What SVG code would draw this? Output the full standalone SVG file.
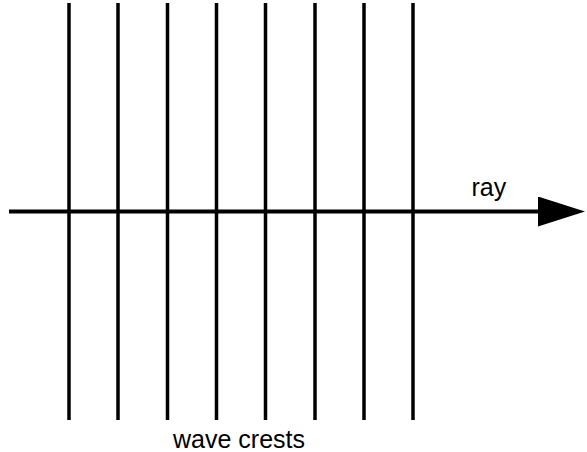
<svg xmlns="http://www.w3.org/2000/svg" width="587" height="452" viewBox="0 0 587 452">
  <style>
    .crest { stroke: #000; stroke-width: 3.5; fill: none; }
    .ray { stroke: #000; stroke-width: 4; fill: none; }
    .label { font-family: "Liberation Sans", Arial, sans-serif; font-size: 25px; fill: #000; }
  </style>
  <defs>
    <marker id="head" markerUnits="userSpaceOnUse" markerWidth="48" markerHeight="32" refX="0" refY="15" orient="auto">
      <polygon points="0,0 47,15 0,30" fill="#000"/>
    </marker>
  </defs>
  <rect width="587" height="452" fill="#fff"/>
  <g id="crests">
    <line class="crest" x1="69" y1="3" x2="69" y2="420"/>
    <line class="crest" x1="118" y1="3" x2="118" y2="420"/>
    <line class="crest" x1="167.5" y1="3" x2="167.5" y2="420"/>
    <line class="crest" x1="216.5" y1="3" x2="216.5" y2="420"/>
    <line class="crest" x1="265.5" y1="3" x2="265.5" y2="420"/>
    <line class="crest" x1="315" y1="3" x2="315" y2="420"/>
    <line class="crest" x1="364" y1="3" x2="364" y2="420"/>
    <line class="crest" x1="413" y1="3" x2="413" y2="420"/>
  </g>
  <g id="connectors">
    <line class="ray" x1="9" y1="211.5" x2="538" y2="211.5" marker-end="url(#head)"/>
  </g>
  <g id="labels">
    <text class="label" x="471.5" y="195.5">ray</text>
    <text class="label" x="173" y="447.5">wave crests</text>
  </g>
</svg>
